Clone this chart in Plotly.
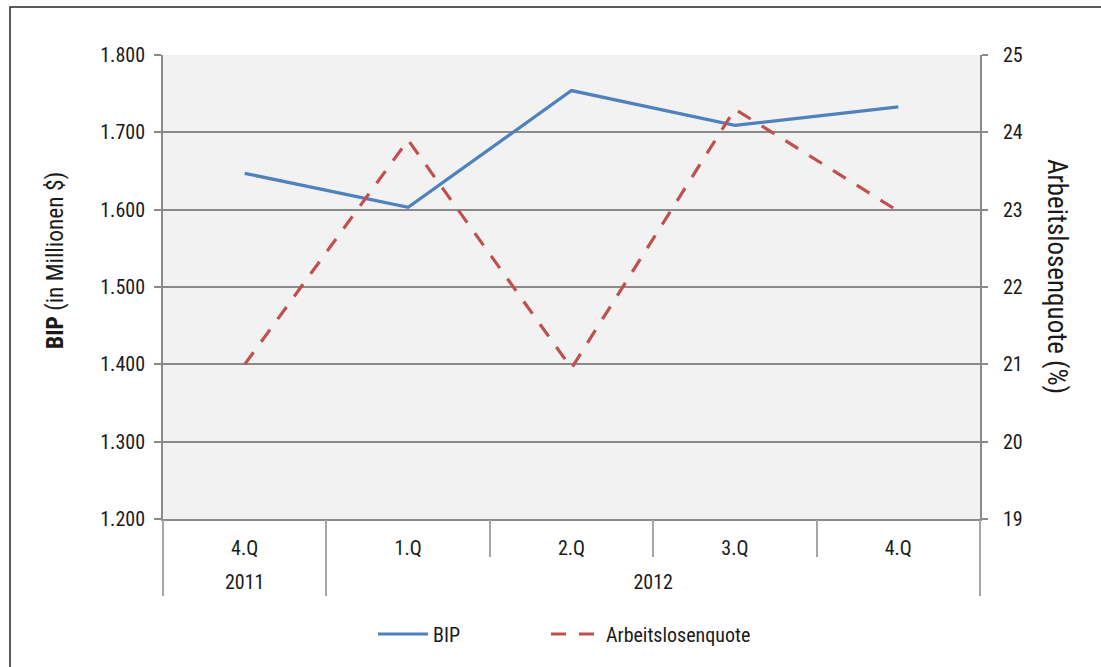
import plotly.graph_objects as go

# Quarterly data: GDP (BIP, million $) and unemployment rate (%)
years = ["2011", "2012", "2012", "2012", "2012"]
quarters = ["4.Q", "1.Q", "2.Q", "3.Q", "4.Q"]
bip = [1647, 1603, 1754, 1709, 1733]
arbeitslosenquote = [21.0, 23.9, 20.95, 24.3, 22.98]

y_left_ticks = [1200, 1300, 1400, 1500, 1600, 1700, 1800]
y_right_ticks = [19, 20, 21, 22, 23, 24, 25]

# one unique category per quarter, shown with the quarter name only
periods = [f"{q} {y}" for q, y in zip(quarters, years)]

# year groups: centre and edges in category-index units
group_names, group_start, group_end = [], [], []
for i, y in enumerate(years):
    if not group_names or group_names[-1] != y:
        group_names.append(y)
        group_start.append(i)
        group_end.append(i)
    else:
        group_end[-1] = i
group_centers = [(a + b) / 2 for a, b in zip(group_start, group_end)]
group_edges = sorted(set([a - 0.5 for a in group_start] + [b + 0.5 for b in group_end]))

W, H = 1101, 667
L, R, T, B = 163, 121, 55, 148
PW, PH = W - L - R, H - T - B

FONT = "Roboto Condensed, Roboto, Liberation Sans, sans-serif"
GRID = "#8a8a8a"
SEP = "#a6a6a6"
BLUE = "#4f81bd"
RED = "#c0504d"
TXT = "#1a1a1a"
XRANGE = [-0.5, len(periods) - 0.5]


def px_x(px):
    return (px - L) / PW


def px_y(py):
    return (H - B - py) / PH


fig = go.Figure()
fig.add_trace(go.Scatter(
    x=periods, y=bip, name="BIP", mode="lines",
    line=dict(color=BLUE, width=3.2), xaxis="x", yaxis="y", legend="legend",
))
fig.add_trace(go.Scatter(
    x=periods, y=arbeitslosenquote, name="Arbeitslosenquote",
    mode="lines", line=dict(color=RED, width=3.2, dash="15px,13px"),
    xaxis="x", yaxis="y2", legend="legend2",
))

# helper axes (no data) for the boundary ticks, year labels and group dividers
for ax in ("x2", "x3", "x4"):
    fig.add_trace(go.Scatter(x=[], y=[], xaxis=ax, yaxis="y",
                             showlegend=False, hoverinfo="skip"))

legend_common = dict(
    orientation="h", xanchor="left", yanchor="middle", y=px_y(634),
    font=dict(size=20, color=TXT), bgcolor="rgba(0,0,0,0)", itemwidth=50,
)

fig.update_layout(
    width=W, height=H,
    margin=dict(l=L, r=R, t=T, b=B, pad=0),
    paper_bgcolor="white",
    plot_bgcolor="#f2f2f2",
    separators=",.",
    font=dict(family=FONT, size=20, color=TXT),
    showlegend=True,
    legend=dict(x=px_x(373), **legend_common),
    legend2=dict(x=px_x(546), **legend_common),
    xaxis=dict(
        type="category", range=XRANGE,
        categoryorder="array", categoryarray=periods,
        tickmode="array", tickvals=periods, ticktext=quarters,
        ticks="outside", ticklen=10, tickcolor="rgba(0,0,0,0)",
        showgrid=False, showline=True, linecolor=GRID, linewidth=2,
        tickfont=dict(size=20), zeroline=False,
    ),
    xaxis2=dict(
        type="category", overlaying="x", anchor="y", side="bottom",
        range=XRANGE, categoryorder="array", categoryarray=periods,
        tickmode="array", tickvals=periods,
        ticks="outside", tickson="boundaries", ticklen=37, tickwidth=2,
        tickcolor=SEP, showgrid=False, showline=False,
        showticklabels=False, zeroline=False,
    ),
    xaxis3=dict(
        type="linear", overlaying="x", anchor="y", side="bottom",
        range=XRANGE, tickmode="array", tickvals=group_centers,
        ticktext=group_names, ticks="outside", ticklen=45,
        tickcolor="rgba(0,0,0,0)", showgrid=False, showline=False,
        tickfont=dict(size=20), zeroline=False,
    ),
    xaxis4=dict(
        type="linear", overlaying="x", anchor="y", side="bottom",
        range=XRANGE, tickmode="array", tickvals=group_edges,
        ticks="outside", ticklen=76, tickwidth=2, tickcolor=SEP,
        showgrid=False, showline=False, showticklabels=False, zeroline=False,
    ),
    yaxis=dict(
        range=[1200, 1800], tickvals=y_left_ticks, tickformat=",d",
        showgrid=True, gridcolor=GRID, gridwidth=1.5,
        showline=True, linecolor=GRID, linewidth=2,
        ticks="outside", ticklen=7, tickwidth=1.5, tickcolor=GRID,
        ticklabelstandoff=5,
        tickfont=dict(size=20), zeroline=False,
    ),
    yaxis2=dict(
        range=[19, 25], tickvals=y_right_ticks, overlaying="y", side="right",
        showgrid=False, showline=True, linecolor=GRID, linewidth=2,
        ticks="outside", ticklen=6, tickwidth=1.5, tickcolor=GRID,
        ticklabelstandoff=11,
        tickfont=dict(size=20), zeroline=False,
    ),
    annotations=[
        dict(text="<b>BIP</b> (in Millionen $)", xref="paper", yref="paper",
             x=px_x(55), y=px_y(261), textangle=-90, showarrow=False,
             font=dict(size=23.5), xanchor="center", yanchor="middle"),
        dict(text="Arbeitslosenquote (%)", xref="paper", yref="paper",
             x=px_x(1057), y=px_y(276), textangle=90, showarrow=False,
             font=dict(size=27), xanchor="center", yanchor="middle"),
    ],
    shapes=[
        dict(type="rect", xref="paper", yref="paper",
             x0=px_x(10), x1=px_x(W + 20), y0=px_y(7), y1=px_y(H + 20),
             line=dict(color="#262626", width=1.5), fillcolor="rgba(0,0,0,0)",
             layer="above"),
    ],
)

fig.write_html("out.html")
